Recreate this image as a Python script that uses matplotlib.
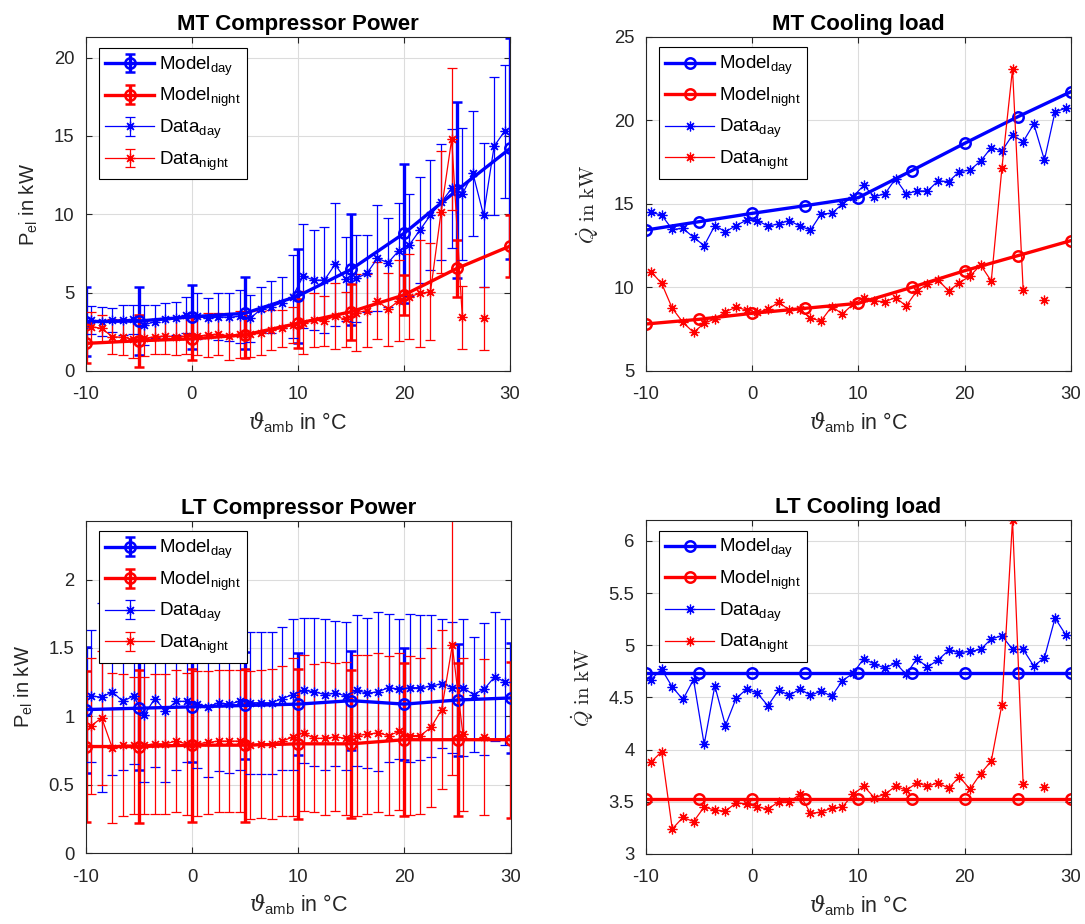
import numpy as np
import matplotlib
matplotlib.use("Agg")
import matplotlib.pyplot as plt
from matplotlib.ticker import FuncFormatter

plt.rcParams["font.family"] = ["Liberation Sans", "DejaVu Sans"]
plt.rcParams["mathtext.fontset"] = "custom"
plt.rcParams["mathtext.rm"] = "Liberation Sans"
plt.rcParams["mathtext.it"] = "DejaVu Serif:italic"
plt.rcParams["mathtext.bf"] = "Liberation Sans:bold"
plt.rcParams["axes.unicode_minus"] = False

nan = np.nan

# ambient temperature: model points every 5 K, measured data in 1 K bins
t_model = [-10, -5, 0, 5, 10, 15, 20, 25, 30]
t_data = np.arange(-9.5, 30.0, 1.0)

# --- MT compressor power (kW) ---
mt_pel_model_day = [3.15, 3.19, 3.46, 3.68, 4.78, 6.48, 8.78, 11.54, 14.2]
mt_pel_model_day_std = [2.2, 2.15, 2.05, 2.3, 3.0, 3.53, 4.46, 5.63, 7.07]
mt_pel_model_night = [1.76, 1.93, 2.05, 2.3, 3.04, 3.78, 4.85, 6.55, 7.97]
mt_pel_model_night_std = [1.24, 1.65, 1.38, 1.49, 1.55, 1.8, 1.25, 1.8, 2.0]

mt_pel_data_day = [3.25, 3.15, 3.25, 3.25, 3.30, 2.93, 3.15, 3.30, 3.36, 3.57,
                   3.50, 3.36, 3.47, 3.42, 3.50, 3.36, 3.93, 4.10, 4.36, 4.74,
                   6.06, 5.80, 5.80, 6.80, 5.85, 5.91, 6.23, 7.19, 6.91, 7.67,
                   8.04, 8.99, 9.95, 10.76, 11.65, 11.29, 12.61, 9.95, 14.35, 15.31]
mt_pel_data_day_std = [0.90, 0.91, 0.77, 0.96, 0.91, 1.28, 1.05, 1.06, 1.06, 1.17,
                       1.45, 1.27, 1.48, 1.53, 1.70, 1.49, 1.41, 1.66, 1.61, 2.66,
                       3.29, 3.19, 3.36, 3.91, 2.67, 2.76, 2.44, 3.38, 2.83, 3.02,
                       3.25, 3.36, 3.51, 3.70, 3.78, 4.23, 3.97, 4.57, 4.42, 4.25]
mt_pel_data_night = [2.83, 2.72, 2.19, 2.15, 2.02, 2.08, 2.19, 2.23, 2.19, 2.23,
                     2.23, 2.30, 2.36, 2.23, 2.36, 2.36, 2.40, 2.61, 2.72, 2.93,
                     3.08, 3.25, 3.21, 3.50, 3.30, 3.72, 3.85, 4.49, 3.93, 4.49,
                     4.74, 4.95, 5.06, 10.16, 14.80, 3.42, nan, 3.36, nan, nan]
mt_pel_data_night_std = [0.95, 0.85, 1.10, 1.15, 1.20, 1.10, 1.10, 1.15, 1.20, 1.15,
                         1.20, 1.40, 1.35, 1.50, 1.50, 1.45, 1.40, 1.30, 1.20, 1.15,
                         2.00, 1.70, 1.59, 2.09, 1.74, 2.47, 2.34, 2.44, 2.34, 2.59,
                         2.72, 3.40, 3.08, 3.89, 4.55, 2.00, nan, 2.02, nan, nan]

# --- MT cooling load (kW) ---
mt_q_model_day = [13.43, 13.93, 14.43, 14.89, 15.37, 16.98, 18.62, 20.21, 21.71]
mt_q_model_night = [7.81, 8.09, 8.45, 8.75, 9.05, 10.0, 11.0, 11.9, 12.8]
mt_q_data_day = [14.49, 14.33, 13.47, 13.53, 13.0, 12.5, 13.7, 13.33, 13.7, 14.03,
                 14.0, 13.67, 13.8, 14.0, 13.67, 13.43, 14.4, 14.43, 14.99, 15.43,
                 16.1, 15.43, 15.6, 16.5, 15.6, 15.77, 15.77, 16.37, 16.33, 16.93,
                 17.02, 17.56, 18.36, 18.16, 19.12, 18.72, 19.78, 17.62, 20.51, 20.71]
mt_q_data_night = [10.94, 10.24, 8.75, 7.91, 7.31, 7.85, 8.11, 8.55, 8.81, 8.65,
                   8.5, 8.69, 9.11, 8.65, 8.69, 8.15, 8.0, 8.85, 8.41, 9.0,
                   9.39, 9.19, 9.15, 9.39, 8.89, 9.79, 10.2, 10.44, 9.79, 10.28,
                   10.68, 11.34, 10.38, 17.12, 23.07, 9.85, nan, 9.25, nan, nan]

# --- LT compressor power (kW) ---
lt_pel_model_day = [1.05, 1.06, 1.07, 1.08, 1.09, 1.115, 1.09, 1.12, 1.135]
lt_pel_model_day_std = [0.46, 0.45, 0.40, 0.39, 0.37, 0.36, 0.41, 0.41, 0.40]
lt_pel_model_night = [0.78, 0.78, 0.79, 0.79, 0.80, 0.80, 0.83, 0.83, 0.83]
lt_pel_model_night_std = [0.55, 0.56, 0.56, 0.56, 0.55, 0.54, 0.56, 0.56, 0.57]

lt_pel_data_day = [1.15, 1.14, 1.18, 1.11, 1.15, 1.01, 1.13, 1.04, 1.11, 1.11,
                   1.09, 1.07, 1.10, 1.09, 1.11, 1.10, 1.10, 1.10, 1.13, 1.16,
                   1.19, 1.18, 1.16, 1.17, 1.15, 1.19, 1.17, 1.18, 1.21, 1.20,
                   1.21, 1.21, 1.22, 1.24, 1.21, 1.21, 1.16, 1.20, 1.29, 1.25]
lt_pel_data_day_std = [0.48, 0.69, 0.61, 0.50, 0.50, 0.49, 0.50, 0.52, 0.50, 0.44,
                       0.47, 0.51, 0.50, 0.50, 0.50, 0.52, 0.52, 0.52, 0.52, 0.55,
                       0.53, 0.54, 0.55, 0.53, 0.54, 0.55, 0.55, 0.58, 0.54, 0.51,
                       0.54, 0.53, 0.52, 0.47, 0.48, 0.50, 0.42, 0.48, 0.47, 0.46]
lt_pel_data_night = [0.93, 0.99, 0.77, 0.79, 0.79, 0.79, 0.80, 0.80, 0.82, 0.80,
                     0.80, 0.81, 0.82, 0.82, 0.82, 0.79, 0.80, 0.80, 0.82, 0.85,
                     0.88, 0.84, 0.84, 0.85, 0.84, 0.86, 0.87, 0.88, 0.86, 0.89,
                     0.86, 0.86, 0.92, 1.05, 1.52, 0.87, nan, 0.85, nan, nan]
lt_pel_data_night_std = [0.50, 0.49, 0.55, 0.52, 0.50, 0.50, 0.51, 0.51, 0.52, 0.52,
                         0.53, 0.52, 0.52, 0.52, 0.52, 0.54, 0.54, 0.55, 0.55, 0.58,
                         0.57, 0.54, 0.56, 0.54, 0.56, 0.59, 0.58, 0.58, 0.58, 0.57,
                         0.58, 0.57, 0.58, 0.58, 0.95, 0.56, nan, 0.57, nan, nan]

# --- LT cooling load (kW) ---
lt_q_model_day = [4.73] * 9
lt_q_model_night = [3.53] * 9
lt_q_data_day = [4.67, 4.77, 4.60, 4.48, 4.67, 4.05, 4.61, 4.23, 4.49, 4.58,
                 4.54, 4.42, 4.57, 4.52, 4.58, 4.52, 4.56, 4.51, 4.66, 4.73,
                 4.87, 4.82, 4.78, 4.83, 4.72, 4.87, 4.79, 4.86, 4.95, 4.93,
                 4.94, 4.96, 5.06, 5.09, 4.96, 4.96, 4.80, 4.88, 5.26, 5.10]
lt_q_data_night = [3.88, 3.98, 3.24, 3.35, 3.31, 3.45, 3.42, 3.41, 3.49, 3.48,
                   3.45, 3.43, 3.50, 3.50, 3.57, 3.39, 3.40, 3.44, 3.45, 3.57,
                   3.65, 3.54, 3.57, 3.65, 3.61, 3.68, 3.65, 3.68, 3.63, 3.74,
                   3.62, 3.77, 3.89, 4.43, 6.20, 3.67, nan, 3.64, nan, nan]

labels = [r"Model$_{\mathrm{day}}$", r"Model$_{\mathrm{night}}$",
          r"Data$_{\mathrm{day}}$", r"Data$_{\mathrm{night}}$"]

DARK = (0.15, 0.15, 0.15)
ASTERISK = (8, 2, 0)

model_kw = dict(lw=2.4, marker="o", ms=7.5, mfc="none", mew=1.8)
data_kw = dict(lw=0.9, marker=ASTERISK, ms=7, mew=0.9)

fig = plt.figure(figsize=(10.85, 9.24), dpi=100)
ax_tl = fig.add_axes([0.0790, 0.5985, 0.3911, 0.3612])
ax_tr = fig.add_axes([0.5951, 0.5985, 0.3920, 0.3618])
ax_bl = fig.add_axes([0.0790, 0.0765, 0.3917, 0.3600])
ax_br = fig.add_axes([0.5951, 0.0758, 0.3920, 0.3615])


def power_panel(ax, md, mds, mn, mns, dd, dds, dn, dns):
    ax.errorbar(t_model, md, yerr=mds, color="b", capsize=3.3, capthick=2.4,
                elinewidth=2.4, label=labels[0], **model_kw)
    ax.errorbar(t_model, mn, yerr=mns, color="r", capsize=3.3, capthick=2.4,
                elinewidth=2.4, label=labels[1], **model_kw)
    ax.errorbar(t_data, dd, yerr=dds, color="b", capsize=3.6, capthick=0.9,
                elinewidth=0.9, label=labels[2], **data_kw)
    ax.errorbar(t_data, dn, yerr=dns, color="r", capsize=3.6, capthick=0.9,
                elinewidth=0.9, label=labels[3], **data_kw)


def load_panel(ax, md, mn, dd, dn):
    ax.plot(t_model, md, color="b", label=labels[0], **model_kw)
    ax.plot(t_model, mn, color="r", label=labels[1], **model_kw)
    ax.plot(t_data, dd, color="b", label=labels[2], **data_kw)
    ax.plot(t_data, dn, color="r", label=labels[3], **data_kw)


def style(ax, title, ylim, yticks, q_label):
    ax.set_xlim(-10, 30)
    ax.set_xticks([-10, 0, 10, 20, 30])
    ax.set_ylim(*ylim)
    ax.set_yticks(yticks)
    ax.yaxis.set_major_formatter(FuncFormatter(lambda v, p: f"{v:g}"))
    ax.grid(True, color="#dcdcdc", linewidth=0.8)
    ax.set_axisbelow(True)
    ax.tick_params(direction="in", top=True, right=True, length=4,
                   labelsize=13.3, colors=DARK)
    ax.tick_params(axis="x", pad=11)
    ax.tick_params(axis="y", pad=8)
    for sp in ax.spines.values():
        sp.set_color(DARK)
        sp.set_linewidth(0.8)
    ax.set_title(title, fontsize=16, fontweight="bold", pad=5)
    ax.set_xlabel(r"$\vartheta_{\mathrm{amb}}$ in °C", fontsize=15.5,
                  color=DARK, labelpad=5)
    if q_label:
        ax.set_ylabel(r"$\dot{Q}\ \mathrm{in\ kW}$", fontsize=15,
                      color=DARK, math_fontfamily="cm", labelpad=9)
    else:
        ax.set_ylabel(r"P$_{\mathrm{el}}$ in kW", fontsize=14.5,
                      color=DARK, labelpad=10)
    leg = ax.legend(loc="upper left", bbox_to_anchor=(0.031, 0.968),
                    borderaxespad=0, fontsize=13.5, handlelength=2.6,
                    handletextpad=0.25, labelspacing=0.45, borderpad=0.35,
                    fancybox=False, framealpha=1, edgecolor="black")
    leg.get_frame().set_linewidth(0.8)


power_panel(ax_tl, mt_pel_model_day, mt_pel_model_day_std,
            mt_pel_model_night, mt_pel_model_night_std,
            mt_pel_data_day, mt_pel_data_day_std,
            mt_pel_data_night, mt_pel_data_night_std)
style(ax_tl, "MT Compressor Power", (0, 21.3), [0, 5, 10, 15, 20], False)

load_panel(ax_tr, mt_q_model_day, mt_q_model_night, mt_q_data_day, mt_q_data_night)
style(ax_tr, "MT Cooling load", (5, 25), [5, 10, 15, 20, 25], True)

power_panel(ax_bl, lt_pel_model_day, lt_pel_model_day_std,
            lt_pel_model_night, lt_pel_model_night_std,
            lt_pel_data_day, lt_pel_data_day_std,
            lt_pel_data_night, lt_pel_data_night_std)
style(ax_bl, "LT Compressor Power", (0, 2.43), [0, 0.5, 1, 1.5, 2], False)

load_panel(ax_br, lt_q_model_day, lt_q_model_night, lt_q_data_day, lt_q_data_night)
style(ax_br, "LT Cooling load", (3, 6.2), [3, 3.5, 4, 4.5, 5, 5.5, 6], True)

fig.savefig("out.png", dpi=100)
